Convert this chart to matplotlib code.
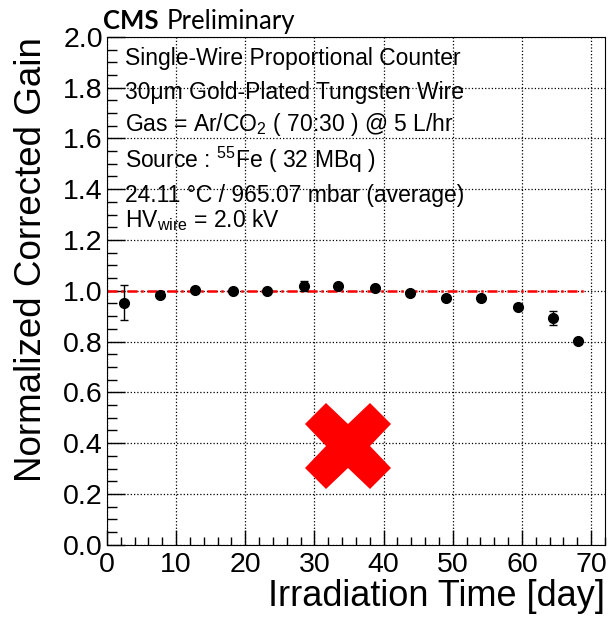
import matplotlib.pyplot as plt
from matplotlib.ticker import MultipleLocator

days = [2.5, 7.7, 12.8, 18.2, 23.1, 28.5, 33.4, 38.7, 43.8, 49.0, 54.1, 59.4, 64.5, 68.1]
gain = [0.953, 0.983, 1.002, 1.000, 1.000, 1.020, 1.020, 1.011, 0.990, 0.973, 0.973, 0.937, 0.894, 0.804]
gain_err = [0.070, 0.008, 0.008, 0.008, 0.008, 0.020, 0.008, 0.008, 0.008, 0.008, 0.008, 0.010, 0.028, 0.008]
ref_x = [0.0, 69.2]
ref_y = [1.0, 1.0]
cross_x, cross_y = 34.9, 0.39

info = [
    "Single-Wire Proportional Counter",
    "30\u03bcm Gold-Plated Tungsten Wire",
    "Gas = Ar/CO$_\\mathregular{2}$ ( 70:30 ) @ 5 L/hr",
    "Source : $^\\mathregular{55}$Fe ( 32 MBq )",
    "24.11 \u00b0C / 965.07 mbar (average)",
    "HV$_\\mathregular{wire}$ = 2.0 kV",
]
info_y = [1.913, 1.782, 1.655, 1.517, 1.374, 1.279]

plt.rcParams['font.family'] = ['Liberation Sans', 'DejaVu Sans']
plt.rcParams['mathtext.fontset'] = 'custom'
plt.rcParams['mathtext.rm'] = 'Liberation Sans'
plt.rcParams['mathtext.it'] = 'Liberation Sans'

fig = plt.figure(figsize=(6.11, 6.24), dpi=100)
ax = fig.add_axes([0.175, 0.127, 0.815, 0.814])

ax.plot(ref_x, ref_y, color='red', ls=(0, (4, 1.5, 1, 1.5)), lw=1.8, zorder=2)
ax.errorbar(days, gain, yerr=gain_err, fmt='o', color='black', ms=7,
            capsize=3, elinewidth=1, zorder=3)
ax.plot([cross_x], [cross_y], marker='X', color='red', ms=62, mew=0, zorder=4)

ax.set_xlim(0, 72)
ax.set_ylim(0, 2.0)
ax.xaxis.set_major_locator(MultipleLocator(10))
ax.xaxis.set_minor_locator(MultipleLocator(2))
ax.yaxis.set_major_locator(MultipleLocator(0.2))
ax.yaxis.set_minor_locator(MultipleLocator(0.05))
ax.yaxis.set_major_formatter(lambda v, p: f"{v:.1f}")
ax.tick_params(which='both', direction='in', top=False, right=False, labelsize=20.5)
ax.tick_params(axis='y', which='major', length=13, width=1, pad=3)
ax.tick_params(axis='y', which='minor', length=7, width=1)
ax.tick_params(axis='x', which='major', length=11, width=1, pad=5)
ax.tick_params(axis='x', which='minor', length=6, width=1)
ax.grid(True, which='major', ls=':', color='black', lw=0.9)
ax.set_axisbelow(True)

ax.set_xlabel("Irradiation Time [day]", fontsize=26, loc='right', labelpad=1)
ax.set_ylabel("Normalized Corrected Gain", fontsize=26.5, loc='top', labelpad=10)

for line, yy in zip(info, info_y):
    ax.text(2.6, yy, line, fontsize=16.5, va='center', ha='left', zorder=5)

fig.text(0.168, 0.954, "CMS", fontsize=18.5, fontweight='bold', family='Lato', va='baseline')
fig.text(0.273, 0.954, "Preliminary", fontsize=18.5, family='Lato', va='baseline')

fig.savefig("out.png", dpi=100)
